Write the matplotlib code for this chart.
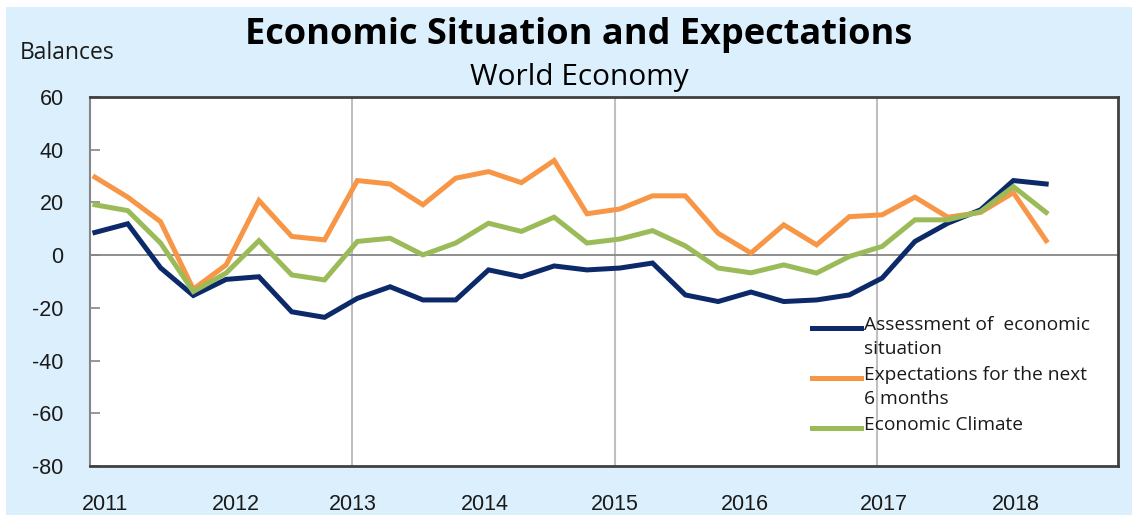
import matplotlib
matplotlib.use("Agg")
import matplotlib.pyplot as plt
from matplotlib.patches import Rectangle

# ---- data (quarterly survey, 2011 Q1 .. 2018 Q2) ----
years = [2011]*4 + [2012]*4 + [2013]*4 + [2014]*4 + [2015]*4 + [2016]*4 + [2017]*4 + [2018]*2
quarters = [1, 2, 3, 4]*7 + [1, 2]

assessment = [8.6, 11.9, -4.8, -15.3, -9.2, -8.2, -21.5, -23.6, -16.4, -12.0,
              -17.0, -17.0, -5.6, -8.2, -4.1, -5.6, -4.9, -3.0, -15.1, -17.6,
              -14.0, -17.6, -17.0, -15.1, -8.7, 5.2, 12.1, 17.2, 28.3, 27.0]
expectations = [29.6, 22.0, 12.7, -12.9, -3.7, 20.7, 7.1, 5.8, 28.3, 27.0,
                19.1, 29.2, 31.7, 27.5, 35.9, 15.7, 17.5, 22.5, 22.5, 8.3,
                0.8, 11.5, 3.9, 14.6, 15.3, 22.0, 14.4, 16.2, 23.7, 5.5]
climate = [19.1, 16.9, 4.6, -13.8, -6.8, 5.5, -7.5, -9.4, 5.2, 6.4,
           0.1, 4.6, 12.1, 9.0, 14.4, 4.6, 6.1, 9.3, 3.5, -4.9,
           -6.7, -3.7, -6.8, -0.5, 3.3, 13.4, 13.4, 16.5, 26.0, 16.2]

series_labels = ["Assessment of  economic\nsituation",
                 "Expectations for the next\n6 months",
                 "Economic Climate"]
year_labels = ["2011", "2012", "2013", "2014", "2015", "2016", "2017", "2018"]
y_ticks = [60, 40, 20, 0, -20, -40, -60, -80]

# ---- styling ----
NAVY = "#0C2A6A"
ORANGE = "#F79646"
GREEN = "#9BBB59"
PANEL = "#DCEFFC"
W, H = 1132, 517

fig = plt.figure(figsize=(W/100, H/100), dpi=100, facecolor="white")
fig.patches.append(Rectangle((6/W, 2/H), 1 - 6/W, 1 - 9/H, transform=fig.transFigure,
                             facecolor=PANEL, edgecolor="none", zorder=-10))

ax = fig.add_axes([90/W, (H-466)/H, 1028/W, 369/H])
ax.set_facecolor("white")

# x position: month of survey within year (approx mid-January, April, July, October)
x = [y + (q - 1)/4 + 0.0375 for y, q in zip(years, quarters)]

ax.set_xlim(2011.0, 2018.835)
ax.set_ylim(-80, 60)

for xv in [2013, 2015, 2017]:
    ax.axvline(xv, color="#BFBFBF", lw=1.5, zorder=1)
ax.axhline(0, color="#868686", lw=1.3, zorder=1)

lw = 3.6
ax.plot(x, assessment, color=NAVY, lw=lw, zorder=3, solid_joinstyle="miter")
ax.plot(x, expectations, color=ORANGE, lw=lw, zorder=4, solid_joinstyle="miter")
ax.plot(x, climate, color=GREEN, lw=lw, zorder=5, solid_joinstyle="miter")

# spines
for s in ["top", "bottom", "right"]:
    ax.spines[s].set_color("#404040")
    ax.spines[s].set_linewidth(2.0)
ax.spines["left"].set_color("#868686")
ax.spines["left"].set_linewidth(1.5)

tick_font = "Liberation Sans"
ax.set_yticks(y_ticks)
ax.set_yticklabels([str(v) for v in y_ticks], family=tick_font)
ax.tick_params(axis="y", direction="in", length=7, width=1.2, color="#868686",
               pad=19, labelsize=15.5, labelcolor="#1a1a1a")
# year labels (Excel-style placement)
label_pos = [2011.114, 2012.113, 2013.005, 2014.011, 2015.003, 2015.994, 2017.054, 2018.053]
ax.set_xticks(label_pos)
ax.set_xticklabels(year_labels, family=tick_font)
ax.tick_params(axis="x", length=0, pad=20, labelsize=15.5, labelcolor="#1a1a1a")

# legend (drawn manually to align handle with first text line)
leg_font = "Open Sans"
leg_y = [328, 378, 428]
for lab, col, yp in zip(series_labels, [NAVY, ORANGE, GREEN], leg_y):
    fy = 1 - yp/H
    fig.add_artist(plt.Line2D([812/W, 861/W], [fy, fy], color=col, lw=3.6,
                              transform=fig.transFigure, zorder=10))
    fig.text(864/W, fy + 12/H, lab, fontsize=13.8, family=leg_font, color="#1a1a1a",
             va="top", ha="left", linespacing=1.45, zorder=10,
             transform=fig.transFigure)

# titles
fig.text(579/W, 1 - 35/H, "Economic Situation and Expectations", ha="center", va="center",
         fontsize=26, fontweight="bold", family="Open Sans", color="black")
fig.text(579/W, 1 - 77/H, "World Economy", ha="center", va="center",
         fontsize=21.5, family="Open Sans", color="black")
fig.text(20/W, 1 - 53/H, "Balances", ha="left", va="center",
         fontsize=16.5, family="Open Sans", color="#1a1a1a")

fig.savefig("out.png", dpi=100, facecolor="white")
